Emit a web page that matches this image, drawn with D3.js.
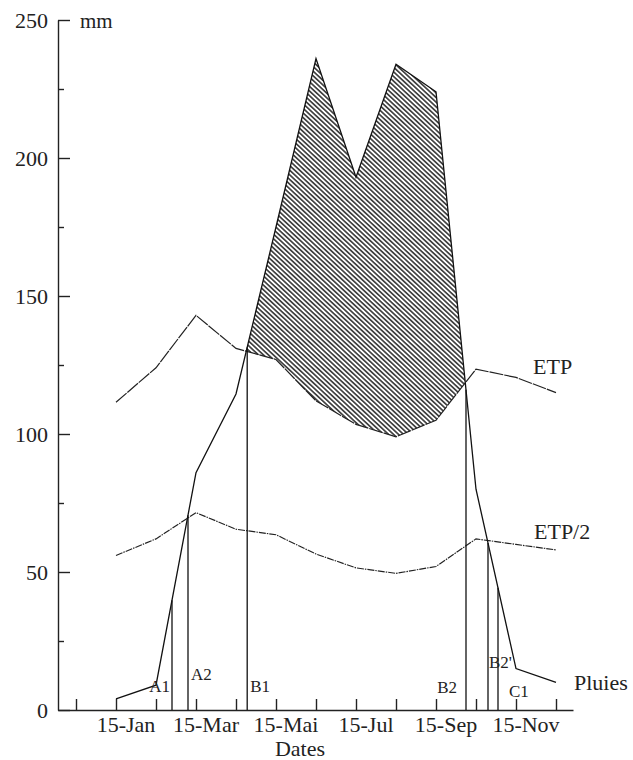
<!DOCTYPE html>
<html>
<head>
<meta charset="utf-8">
<script src="https://cdn.jsdelivr.net/npm/d3@7.9.0/dist/d3.min.js"></script>
<style>
  body { margin: 0; background: #fff; }
  svg { display: block; font-family: "Liberation Serif", "Times New Roman", serif; }
  .axis path, .axis line { stroke: #222; stroke-width: 1.4; }
  .axis text { font-family: "Liberation Serif", serif; font-size: 22px; fill: #222; }
</style>
</head>
<body>
<svg id="chart" width="633" height="760"></svg>
<script>
// months, 1 = 15-Jan ... 12 = 15-Dec
const months = [1, 2, 3, 4, 5, 6, 7, 8, 9, 10, 11, 12];
const pluies = [4, 9, 86, 114.5, 175, 236, 193, 234, 224, 80, 15, 10];
const etp = [111.5, 124, 143, 131, 127, 112, 103.5, 99, 105, 123.5, 120.5, 115];
const etp2 = [56, 62, 71.5, 65.5, 63.5, 56.5, 51.5, 49.5, 52, 62, 60, 58];

const labelMonths = [1, 3, 5, 7, 9, 11];
const monthLabels = ['15-Jan', '15-Mar', '15-Mai', '15-Jul', '15-Sep', '15-Nov'];

const yMajor = [0, 50, 100, 150, 200, 250];
const yMinor = [25, 75, 125, 175, 225];

// key dates (in month units)
const eventNames = ['A1', 'A2', 'B1', 'B2', "B2'", 'C1'];
const eventDates = [2.4, 2.8, 4.28, 9.75, 10.3, 10.55];

const svg = d3.select('#chart');
const x = d3.scaleLinear().domain([-0.45, 12.425]).range([58, 573]);
const y = d3.scaleLinear().domain([0, 250]).range([710, 20]);

//value of a series at a fractional month
function valueAt(series, m) {
    const i = Math.max(0, Math.min(series.length - 2, Math.floor(m) - 1));
    const t = m - months[i];
    return series[i] + (series[i + 1] - series[i]) * t;
}

//find where a minus b changes sign
function crossings(a, b) {
    const out = [];
    for (let i = 0; i < months.length - 1; i++) {
        const d0 = a[i] - b[i], d1 = a[i + 1] - b[i + 1];
        if (d0 * d1 < 0) out.push(months[i] + d0 / (d0 - d1));
    }
    return out;
}

//hatch pattern
const defs = svg.append('defs');
defs.append('pattern')
    .attr('id', 'hatch')
    .attr('patternUnits', 'userSpaceOnUse')
    .attr('width', 3.4)
    .attr('height', 10)
    .attr('patternTransform', 'rotate(-47)')
    .append('line')
    .attr('x1', 1.7).attr('y1', 0)
    .attr('x2', 1.7).attr('y2', 10)
    .attr('stroke', '#222')
    .attr('stroke-width', 1.45);

//surplus area (Pluies above ETP)
const [b1, b2] = crossings(pluies, etp);
const areaPts = [b1, ...months.filter(m => m > b1 && m < b2), b2];
const area = d3.area()
    .x(m => x(m))
    .y0(m => y(valueAt(etp, m)))
    .y1(m => y(valueAt(pluies, m)));
svg.append('path')
    .attr('d', area(areaPts))
    .attr('fill', 'url(#hatch)')
    .attr('stroke', 'none');

//axes
const xAxis = d3.axisBottom(x)
    .tickValues(d3.range(0, 13))
    .tickSizeInner(-11)
    .tickSizeOuter(0)
    .tickFormat('');
svg.append('g').attr('class', 'axis')
    .attr('transform', `translate(0,${y(0)})`)
    .call(xAxis);

svg.append('g').attr('class', 'axis')
    .attr('transform', `translate(0,${y(0)})`)
    .selectAll('text')
    .data(labelMonths)
    .join('text')
    .attr('x', d => x(d) + 10)
    .attr('y', 22)
    .attr('text-anchor', 'middle')
    .text((d, i) => monthLabels[i]);

const yAxis = d3.axisLeft(y)
    .tickValues(yMajor)
    .tickSizeInner(-12)
    .tickSizeOuter(0)
    .tickPadding(10);
svg.append('g').attr('class', 'axis')
    .attr('transform', `translate(${x(-0.45)},0)`)
    .call(yAxis);

svg.append('g').attr('class', 'axis')
    .attr('transform', `translate(${x(-0.45)},0)`)
    .call(d3.axisLeft(y).tickValues(yMinor).tickSizeInner(-6).tickSizeOuter(0).tickFormat(''))
    .select('.domain').remove();

//axis titles
svg.append('text')
    .attr('x', 80).attr('y', 28)
    .attr('font-size', 21).attr('fill', '#222')
    .text('mm');
svg.append('text')
    .attr('x', 300).attr('y', 756)
    .attr('text-anchor', 'middle')
    .attr('font-size', 22).attr('fill', '#222')
    .text('Dates');

//series lines
const line = series => d3.line()
    .x((d, i) => x(months[i]))
    .y(d => y(d))(series);

svg.append('path')
    .attr('d', line(etp))
    .attr('fill', 'none')
    .attr('stroke', '#222')
    .attr('stroke-width', 1.2)
    .attr('stroke-dasharray', '14,1');

svg.append('path')
    .attr('d', line(etp2))
    .attr('fill', 'none')
    .attr('stroke', '#222')
    .attr('stroke-width', 1.15)
    .attr('stroke-dasharray', '7,1,1.5,1');

svg.append('path')
    .attr('d', line(pluies))
    .attr('fill', 'none')
    .attr('stroke', '#111')
    .attr('stroke-width', 1.3);

//vertical lines at key dates
svg.append('g')
    .selectAll('line')
    .data(eventDates)
    .join('line')
    .attr('x1', d => x(d)).attr('x2', d => x(d))
    .attr('y1', y(0))
    .attr('y2', d => y(valueAt(pluies, d)))
    .attr('stroke', '#111')
    .attr('stroke-width', 1.3);

//event labels: offset from the line and baseline
const eventLabelPos = {
    'A1': { dx: -2, anchor: 'end', y: 692 },
    'A2': { dx: 3, anchor: 'start', y: 680 },
    'B1': { dx: 3, anchor: 'start', y: 692 },
    'B2': { dx: -9, anchor: 'end', y: 693 },
    "B2'": { dx: 1, anchor: 'start', y: 668 },
    'C1': { dx: 11, anchor: 'start', y: 697 }
};
svg.append('g')
    .selectAll('text')
    .data(eventDates)
    .join('text')
    .attr('x', (d, i) => x(d) + eventLabelPos[eventNames[i]].dx)
    .attr('y', (d, i) => eventLabelPos[eventNames[i]].y)
    .attr('text-anchor', (d, i) => eventLabelPos[eventNames[i]].anchor)
    .attr('font-size', 17)
    .attr('fill', '#222')
    .text((d, i) => eventNames[i]);

//series labels
svg.append('text').attr('x', 533).attr('y', 374)
    .attr('font-size', 22).attr('fill', '#222').text('ETP');
svg.append('text').attr('x', 534).attr('y', 539)
    .attr('font-size', 22).attr('fill', '#222').text('ETP/2');
svg.append('text').attr('x', 574).attr('y', 690)
    .attr('font-size', 22).attr('fill', '#222').text('Pluies');
</script>
</body>
</html>
